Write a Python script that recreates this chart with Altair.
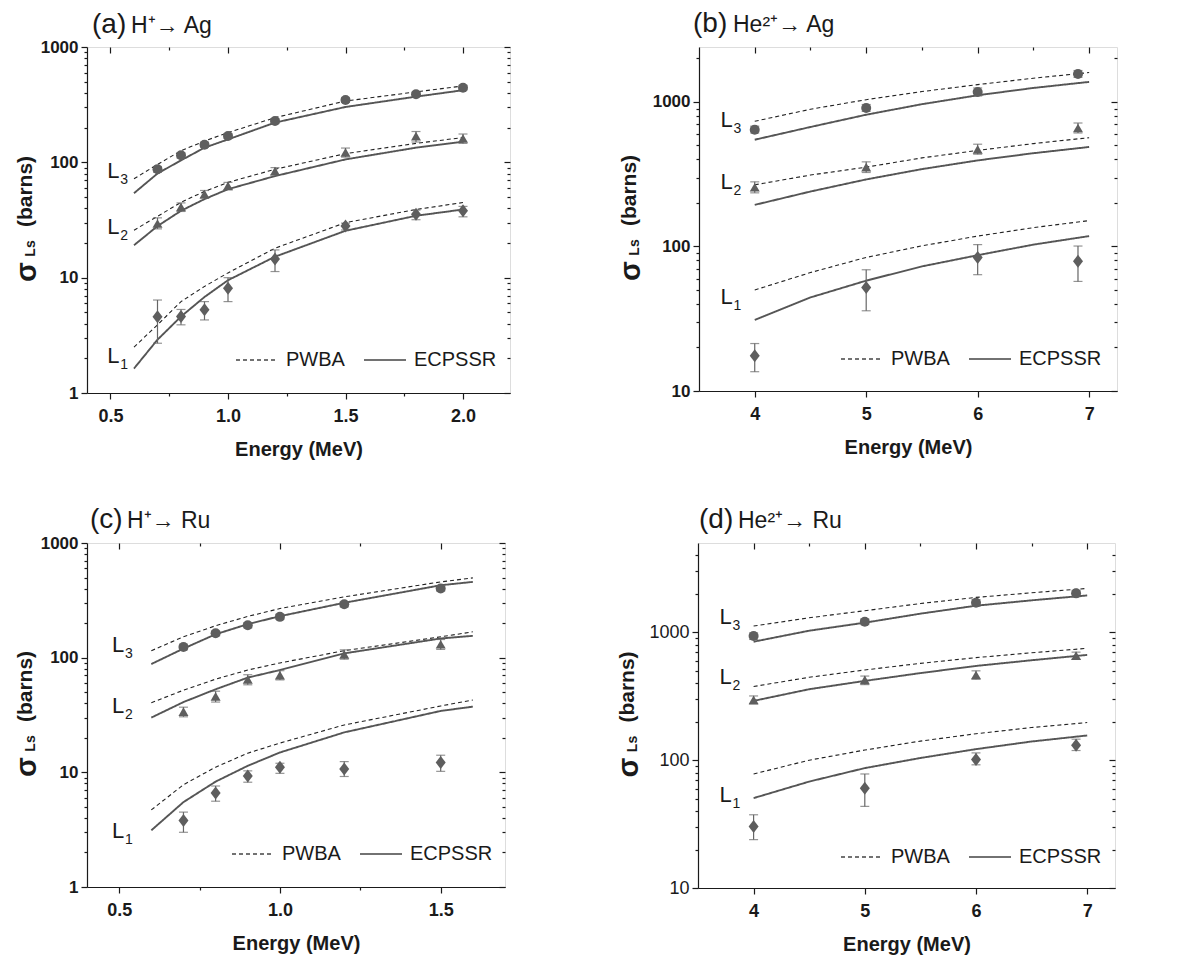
import json
import altair as alt
import pandas as pd

FONT = "Liberation Sans"
INK = "#1a1a1a"
DIAMOND = "M0,-1.3L1,0L0,1.3L-1,0Z"

# ---------------- (a) H+ -> Ag ----------------
a_E = [0.7, 0.8, 0.9, 1.0, 1.2, 1.5, 1.8, 2.0]
a_L3 = [87, 115, 142, 169, 228, 347, 389, 444]
a_L3_lo = [82, 109, 135, 161, 217, 331, 372, 424]
a_L3_hi = [92, 121, 149, 177, 239, 363, 406, 464]
a_L2 = [29.5, 41, 53, 62.5, 84, 122, 169, 161]
a_L2_lo = [26.5, 37.5, 49, 58, 78, 111, 150, 146]
a_L2_hi = [33, 44.5, 57, 67, 90, 133, 185, 176]
a_L1 = [4.58, 4.6, 5.27, 8.1, 14.5, 28, 35.5, 38]
a_L1_lo = [2.7, 3.9, 4.3, 6.2, 11.3, 25.9, 31.8, 33.7]
a_L1_hi = [6.4, 5.3, 6.2, 10, 17.4, 29.7, 38.5, 41.5]
a_Eth = [0.6, 0.7, 0.8, 0.9, 1.0, 1.2, 1.5, 1.8, 2.0]
a_L3_pwba = [72, 96, 126, 153, 181, 244, 340, 408, 459]
a_L3_ecp = [54, 80, 104, 134, 158, 221, 302, 371, 422]
a_L2_pwba = [25.8, 34, 45, 56, 67, 87, 119, 146, 164]
a_L2_ecp = [19.1, 28, 38, 48, 58.5, 76, 106, 134, 151]
a_L1_pwba = [2.5, 3.9, 6.2, 8.4, 11.0, 18.0, 30, 39, 44.8]
a_L1_ecp = [1.63, 2.9, 4.6, 6.8, 9.5, 15.2, 25.5, 34.4, 39]

# ---------------- (b) He2+ -> Ag ----------------
b_E = [4, 5, 6, 6.9]
b_L3 = [643, 909, 1173, 1563]
b_L3_lo = [610, 860, 1100, 1480]
b_L3_hi = [680, 960, 1250, 1650]
b_L2 = [257, 354, 470, 660]
b_L2_lo = [235, 325, 435, 610]
b_L2_hi = [280, 385, 510, 715]
b_L1 = [17.5, 52, 84, 79]
b_L1_lo = [13.6, 35.9, 63.8, 57.3]
b_L1_hi = [21.3, 69, 103, 100.7]
b_Eth = [4, 4.5, 5, 5.5, 6, 6.5, 7]
b_L3_pwba = [735, 890, 1037, 1180, 1318, 1460, 1597]
b_L3_ecp = [548, 671, 816, 965, 1112, 1250, 1376]
b_L2_pwba = [267, 312, 354, 410, 462, 515, 566]
b_L2_ecp = [194, 240, 291, 343, 394, 442, 488]
b_L1_pwba = [50, 66, 84, 101, 118, 135, 151]
b_L1_ecp = [31, 44.4, 58, 72.8, 87, 103, 118]

# ---------------- (c) H+ -> Ru ----------------
c_E = [0.7, 0.8, 0.9, 1.0, 1.2, 1.5]
c_L3 = [124, 163, 192, 227, 292, 401]
c_L3_lo = [117, 155, 182, 216, 277, 381]
c_L3_hi = [131, 171, 202, 238, 307, 421]
c_L2 = [33.8, 46, 64.7, 70.5, 107, 131]
c_L2_lo = [30.5, 41, 58, 64, 97, 118]
c_L2_hi = [37, 51, 71, 77, 117, 144]
c_L1 = [3.8, 6.6, 9.3, 11.1, 10.7, 12.2]
c_L1_lo = [3.0, 5.6, 8.2, 9.8, 9.2, 10.2]
c_L1_hi = [4.5, 7.6, 10.3, 12, 12.4, 14.1]
c_Eth = [0.6, 0.7, 0.8, 0.9, 1.0, 1.2, 1.5, 1.6]
c_L3_pwba = [115, 152, 190, 229, 268, 339, 458, 496]
c_L3_ecp = [88, 120, 160, 196, 230, 301, 428, 458]
c_L2_pwba = [40.5, 52, 65, 78, 90, 115, 152, 168]
c_L2_ecp = [30, 41, 53, 67, 78, 109, 147, 155]
c_L1_pwba = [4.7, 7.8, 11.1, 14.7, 18, 25.9, 37.9, 42.7]
c_L1_ecp = [3.12, 5.5, 8.3, 11.4, 14.9, 22.3, 34.3, 37.4]

# ---------------- (d) He2+ -> Ru ----------------
d_E = [4, 5, 6, 6.9]
d_L3 = [936, 1211, 1706, 2018]
d_L3_lo = [880, 1150, 1600, 1900]
d_L3_hi = [990, 1270, 1800, 2130]
d_L2 = [296, 425, 464, 658]
d_L2_lo = [275, 390, 430, 615]
d_L2_hi = [318, 455, 500, 700]
d_L1 = [30.3, 60.4, 101, 131]
d_L1_lo = [23.9, 43.5, 92, 119]
d_L1_hi = [37.4, 78, 114, 146]
d_Eth = [4, 4.5, 5, 5.5, 6, 6.5, 7]
d_L3_pwba = [1120, 1300, 1476, 1680, 1876, 2040, 2206]
d_L3_ecp = [845, 1030, 1190, 1400, 1616, 1780, 1945]
d_L2_pwba = [377, 445, 508, 572, 634, 692, 750]
d_L2_ecp = [291, 359, 417, 480, 546, 605, 666]
d_L1_pwba = [78, 100, 120, 141, 161, 180, 197]
d_L1_ecp = [50.5, 68, 86.7, 104, 122, 140, 156]

SERIES = ["L1", "L2", "L3"]
MODELS = ["PWBA", "ECPSSR"]

LOG_MINOR_1 = [2, 3, 4, 5, 6, 7, 8, 9, 20, 30, 40, 50, 60, 70, 80, 90,
               200, 300, 400, 500, 600, 700, 800, 900]
LOG_MINOR_10 = [20, 30, 40, 50, 60, 70, 80, 90, 200, 300, 400, 500, 600, 700, 800, 900]

panels = [
    dict(key="a", E=a_E,
         exp={"L1": (a_L1, a_L1_lo, a_L1_hi), "L2": (a_L2, a_L2_lo, a_L2_hi), "L3": (a_L3, a_L3_lo, a_L3_hi)},
         Eth=a_Eth,
         th={"L1": (a_L1_pwba, a_L1_ecp), "L2": (a_L2_pwba, a_L2_ecp), "L3": (a_L3_pwba, a_L3_ecp)},
         xdom=[0.4, 2.2], xmaj=[0.5, 1.0, 1.5, 2.0], xmin=[0.75, 1.25, 1.75], xfmt=".1f",
         ydom=[1, 1000], ymaj=[1, 10, 100, 1000], ymin=LOG_MINOR_1,
         W=423, H=346, t1="(a)", t2="H⁺→ Ag", t1x=5, t2x=44, ty=-14, ys=1,
         legx=148, legy=291, labE=0.486, labS=[1.82, 23.9, 73], yweight="bold"),
    dict(key="b", E=b_E,
         exp={"L1": (b_L1, b_L1_lo, b_L1_hi), "L2": (b_L2, b_L2_lo, b_L2_hi), "L3": (b_L3, b_L3_lo, b_L3_hi)},
         Eth=b_Eth,
         th={"L1": (b_L1_pwba, b_L1_ecp), "L2": (b_L2_pwba, b_L2_ecp), "L3": (b_L3_pwba, b_L3_ecp)},
         xdom=[3.5, 7.25], xmaj=[4, 5, 6, 7], xmin=[4.5, 5.5, 6.5], xfmt="d",
         ydom=[10, 2400], ymaj=[10, 100, 1000], ymin=LOG_MINOR_10 + [2000],
         W=418, H=344, t1="(b)", t2="He²⁺→ Ag", t1x=-6, t2x=34, ty=-15, ys=-7,
         legx=141, legy=290, labE=3.694, labS=[40, 250, 671], yweight="bold"),
    dict(key="c", E=c_E,
         exp={"L1": (c_L1, c_L1_lo, c_L1_hi), "L2": (c_L2, c_L2_lo, c_L2_hi), "L3": (c_L3, c_L3_lo, c_L3_hi)},
         Eth=c_Eth,
         th={"L1": (c_L1_pwba, c_L1_ecp), "L2": (c_L2_pwba, c_L2_ecp), "L3": (c_L3_pwba, c_L3_ecp)},
         xdom=[0.4, 1.7], xmaj=[0.5, 1.0, 1.5], xmin=[0.75, 1.25], xfmt=".1f",
         ydom=[1, 1000], ymaj=[1, 10, 100, 1000], ymin=LOG_MINOR_1,
         W=418, H=344, t1="(c)", t2="H⁺→ Ru", t1x=3, t2x=40, ty=-15, ys=1,
         legx=144, legy=289, labE=0.478, labS=[2.66, 32.7, 113], yweight="bold"),
    dict(key="d", E=d_E,
         exp={"L1": (d_L1, d_L1_lo, d_L1_hi), "L2": (d_L2, d_L2_lo, d_L2_hi), "L3": (d_L3, d_L3_lo, d_L3_hi)},
         Eth=d_Eth,
         th={"L1": (d_L1_pwba, d_L1_ecp), "L2": (d_L2_pwba, d_L2_ecp), "L3": (d_L3_pwba, d_L3_ecp)},
         xdom=[3.5, 7.25], xmaj=[4, 5, 6, 7], xmin=[4.5, 5.5, 6.5], xfmt="d",
         ydom=[10, 5000], ymaj=[10, 100, 1000], ymin=LOG_MINOR_10 + [2000, 3000, 4000],
         W=417, H=345, t1="(d)", t2="He²⁺→ Ru", t1x=1, t2x=40, ty=-15, ys=-8,
         legx=142, legy=292, labE=3.694, labS=[47.2, 397, 1169], yweight="normal"),
]


def tick_cond(major, big=6, small=3):
    test = f"indexof({json.dumps(major)}, datum.value) >= 0"
    return {"condition": {"test": test, "value": big}, "value": small}


def label_expr(major):
    return f"indexof({json.dumps(major)}, datum.value) >= 0 ? datum.label : ''"


def mirror(orient, values, size):
    return alt.Axis(orient=orient, values=values, labels=False, domain=False,
                    ticks=True, tickSize=size, offset=-size, tickWidth=1.2,
                    tickColor=INK, grid=False, title=None)


def make_panel(p):
    rows = []
    for s in SERIES:
        for m, vals in zip(MODELS, p["th"][s]):
            for e, v in zip(p["Eth"], vals):
                rows.append(dict(E=e, sigma=v, series=s, model=m))
    lines_df = pd.DataFrame(rows)

    prow = []
    for s in SERIES:
        v, lo, hi = p["exp"][s]
        for e, vv, l, h in zip(p["E"], v, lo, hi):
            prow.append(dict(E=e, sigma=vv, lo=l, hi=h, series=s))
    pts_df = pd.DataFrame(prow)

    lab_df = pd.DataFrame(dict(E=[p["labE"]] * 3, sigma=p["labS"], sub=["1", "2", "3"]))

    xs = alt.Scale(domain=p["xdom"], nice=False, zero=False)
    ys = alt.Scale(type="log", domain=p["ydom"], nice=False)
    xvals = sorted(p["xmaj"] + p["xmin"])
    yvals = sorted(p["ymaj"] + p["ymin"])

    x_main = alt.Axis(orient="bottom", values=xvals, format=p["xfmt"],
                      labelExpr=label_expr(p["xmaj"]), tickSize=tick_cond(p["xmaj"]),
                      tickWidth=1.2, tickColor=INK, domainColor=INK, domainWidth=1.2,
                      labelFont=FONT, labelFontSize=18, labelFontWeight="bold",
                      labelColor=INK, labelPadding=8, labelFlush=False, labelOverlap=False,
                      title="Energy (MeV)", titleFont=FONT, titleFontSize=20,
                      titleFontWeight="bold", titleColor=INK, titlePadding=14, grid=False)
    y_main = alt.Axis(orient="left", values=yvals, format="d",
                      labelExpr=label_expr(p["ymaj"]), tickSize=tick_cond(p["ymaj"]),
                      tickWidth=1.2, tickColor=INK, domainColor=INK, domainWidth=1.2,
                      labelFont=FONT, labelFontSize=17 if p["yweight"] == "bold" else 18,
                      labelFontWeight=p["yweight"], labelColor=INK, labelPadding=3,
                      labelFlush=False, labelOverlap=False, title=None, grid=False)

    dash_scale = alt.Scale(domain=MODELS, range=[[4, 3], [1, 0]])
    legend = alt.Legend(orient="none", legendX=p["legx"], legendY=p["legy"],
                        direction="horizontal", title=None, symbolType="stroke",
                        symbolSize=1764, symbolStrokeWidth=1.5,
                        symbolStrokeColor="#444444", labelFont=FONT,
                        labelFontSize=20, labelColor=INK, labelOffset=7,
                        columnPadding=16, padding=0)

    base_lines = alt.Chart(lines_df)
    dashed = base_lines.transform_filter(alt.datum.model == "PWBA").mark_line(
        color="#222222", strokeWidth=1.1).encode(
        x=alt.X("E:Q", scale=xs, axis=x_main),
        y=alt.Y("sigma:Q", scale=ys, axis=y_main),
        detail="series:N",
        strokeDash=alt.StrokeDash("model:N", scale=dash_scale, legend=legend),
    )
    solid = base_lines.transform_filter(alt.datum.model == "ECPSSR").mark_line(
        color="#555555", strokeWidth=1.9).encode(
        x=alt.X("E:Q", scale=xs, axis=None),
        y=alt.Y("sigma:Q", scale=ys, axis=None),
        detail="series:N",
        strokeDash=alt.StrokeDash("model:N", scale=dash_scale, legend=legend),
    )

    errs = alt.Chart(pts_df).mark_errorbar(ticks=True, size=9, thickness=1.2, color="#666666").encode(
        x=alt.X("E:Q", scale=xs, axis=None),
        y=alt.Y("lo:Q", scale=ys, axis=None, title=None),
        y2="hi:Q",
    )

    pts = alt.Chart(pts_df).mark_point(filled=True, size=100, opacity=1, color="#5e5e5e").encode(
        x=alt.X("E:Q", scale=xs, axis=mirror("top", p["xmaj"], 6)),
        y=alt.Y("sigma:Q", scale=ys, axis=mirror("right", p["ymaj"], 6)),
        shape=alt.Shape("series:N", scale=alt.Scale(domain=SERIES, range=[DIAMOND, "triangle-up", "circle"]),
                        legend=None),
    )

    labL = alt.Chart(lab_df).mark_text(text="L", font=FONT, fontSize=22, color=INK,
                                        align="left", baseline="alphabetic").encode(
        x=alt.X("E:Q", scale=xs, axis=mirror("top", p["xmin"], 3)),
        y=alt.Y("sigma:Q", scale=ys, axis=mirror("right", p["ymin"], 3)),
    )
    labS = alt.Chart(lab_df).mark_text(font=FONT, fontSize=14, color=INK, align="left",
                                        baseline="alphabetic", dx=13, dy=6).encode(
        x=alt.X("E:Q", scale=xs, axis=None),
        y=alt.Y("sigma:Q", scale=ys, axis=None),
        text="sub:N",
    )

    one = pd.DataFrame({"k": [0]})
    t1 = alt.Chart(one).mark_text(text=p["t1"], font=FONT, fontSize=28, color=INK,
                                  align="left", baseline="alphabetic").encode(
        x=alt.value(p["t1x"]), y=alt.value(p["ty"]))
    t2 = alt.Chart(one).mark_text(text=p["t2"], font=FONT, fontSize=23, color=INK,
                                  align="left", baseline="alphabetic").encode(
        x=alt.value(p["t2x"]), y=alt.value(p["ty"]))

    H = p["H"]
    s = p["ys"]
    sig = alt.Chart(one).mark_text(text="σ", font=FONT, fontSize=29, fontWeight="bold",
                                   color=INK, angle=270, align="center",
                                   baseline="alphabetic").encode(
        x=alt.value(-52 + s), y=alt.value(H / 2 + 52))
    sub = alt.Chart(one).mark_text(text="Ls", font=FONT, fontSize=14, fontWeight="bold",
                                   color=INK, angle=270, align="center",
                                   baseline="alphabetic").encode(
        x=alt.value(-53 + s), y=alt.value(H / 2 + 28.5))
    barns = alt.Chart(one).mark_text(text="(barns)", font=FONT, fontSize=21, fontWeight="bold",
                                     color=INK, angle=270, align="center",
                                     baseline="alphabetic").encode(
        x=alt.value(-56 + s), y=alt.value(H / 2 - 28.5))

    return alt.layer(dashed, solid, errs, pts, labL, labS, t1, t2, sig, sub, barns).resolve_axis(
        x="independent", y="independent"
    ).properties(width=p["W"], height=H)


pa, pb, pc, pd_ = [make_panel(p) for p in panels]

RS = dict(strokeDash="independent", shape="independent")

row1 = alt.hconcat(pa, pb, spacing=104).resolve_scale(**RS).resolve_legend(strokeDash="independent")
row2 = alt.hconcat(pc, pd_, spacing=107).resolve_scale(**RS).resolve_legend(strokeDash="independent")

chart = alt.vconcat(row1, row2, spacing=45).resolve_scale(**RS).resolve_legend(
    strokeDash="independent"
).properties(
    padding={"left": 4, "top": 1, "right": 0, "bottom": 0}
).configure_view(stroke=INK, strokeWidth=1.2).configure(background="white")

chart.save("out.html", embed_options={"renderer": "svg", "actions": False})
